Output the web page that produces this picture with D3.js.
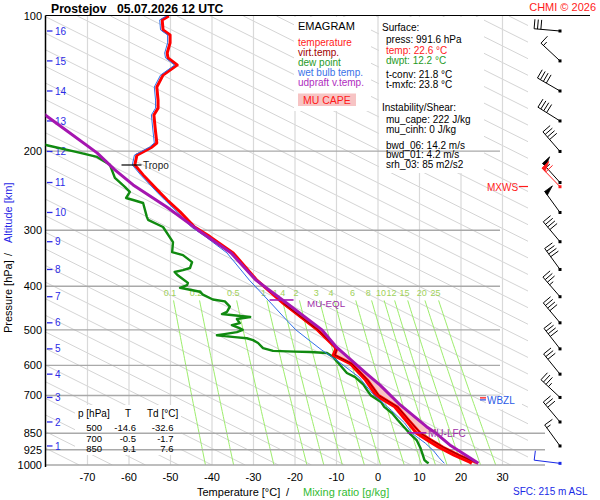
<!DOCTYPE html>
<html><head><meta charset="utf-8">
<script src="https://d3js.org/d3.v7.min.js"></script>
<style>
html,body{margin:0;padding:0;background:#fff;}
svg{display:block;}
text{font-family:"Liberation Sans",Arial,Helvetica,sans-serif;}
</style></head>
<body><svg id="chart" width="600" height="500"></svg>
<script>
// ================= DATA =================
const isobarLevels=[100,200,300,400,500,600,700,850,925,1000];
const tempTicks=[-70,-60,-50,-40,-30,-20,-10,0,10,20,30];
const mixRatios=[0.1,0.2,0.5,1,1.4,2,3,4,6,8,10,12,15,20,25];
const mixLabels=["0.1","0.2","0.5","1","1.4","2","3","4","6","8","10","12","15","20","25"];
const altKm=[16,15,14,13,12,11,10,9,8,7,6,5,4,3,2,1];
const altP=[108,125.9,146.9,171.3,200.3,234.9,273.9,318.2,366.9,421.9,482.3,551.3,627.6,707.2,802,907];

// temperature profile (hPa, degC)
const tempP=[100,102,107.4,110.2,114.8,120.9,124,128.6,135.4,143.9,153.9,160.4,166.1,177.6,191.8,196,204.1,214.7,225.9,247.7,256.9,273,295,310,337,387.5,436,500,546,552,569,595,647,700,742,801,850,880,912,951,986,991.6];
const tempT=[-50.4,-52.0,-51.8,-50.1,-50.1,-50.8,-50.6,-48.4,-51.8,-53.3,-53.0,-53.0,-54.0,-53.7,-53.3,-54.5,-58.1,-58.6,-56.6,-52.5,-50.8,-47.7,-44.2,-40.5,-34.9,-29.2,-22.9,-14.6,-10.4,-10.2,-10.8,-6.7,-3.0,-0.5,4.0,7.0,9.3,11.8,14.5,18.3,22.1,22.6];
// virtual temperature (lower part, where it separates from T)
const vtempP=[436,500,546,552,569,595,647,700,742,801,850,880,912,951,986,991.6];
const vtempT=[-22.8,-14.5,-10.2,-9.9,-10.4,-6.3,-2.5,0.2,4.7,7.8,10.3,12.9,15.7,19.6,23.5,24.1];
// dew point
const dewP=[180,186,190,194,201,206,214.5,229.4,240.3,246.5,254.3,256.9,260.9,280.1,284.5,295.1,318.9,335.6,340.8,353.3,364.1,368,371.6,377,381.2,393,397.5,403,407,411.2,417.5,428,432,444,456,461,465,468,473,483,488,495,500,506,511,514,519,522,527,535,549,557,559,560,563,575,598,624,637,662,682,700,725,742,767,795,822,850,880,915,950,975,986,991.6];
const dewT=[-83,-80.5,-82,-79.8,-72.5,-67.7,-64.6,-63.4,-61.0,-59.8,-60.7,-59.0,-56.6,-55.7,-55.4,-51.8,-49.4,-49.6,-47.0,-44.8,-45.3,-47.0,-49.0,-48.4,-47.7,-45.8,-46.0,-47.7,-45.3,-42.9,-42.2,-39.8,-36.9,-35.7,-36.4,-37.6,-33.7,-30.8,-34.0,-33.3,-35.2,-33.5,-32.6,-34.0,-37.0,-38.8,-34.5,-31.6,-30.1,-28.9,-27.7,-25.3,-20.0,-16.4,-12.3,-10.8,-9.2,-7.5,-5.5,-3.5,-2.6,-1.7,0.8,1.5,3.4,4.8,6.2,7.6,9.3,10.2,10.8,11.2,11.8,12.2];
// wet bulb temperature
const wbP=[100,102,107.4,110.2,114.8,120.9,124,128.6,135.4,143.9,153.9,160.4,166.1,177.6,191.8,196,204.1,214.7,225.9,247.7,256.9,273,295,310,337,387.5,436,476,500,531,555,584,637,692,755,806,850,894,930,963,991.6];
const wbT=[-51.0,-52.6,-52.4,-50.7,-50.7,-51.4,-51.2,-49.0,-52.4,-53.9,-53.6,-53.6,-54.6,-54.3,-53.9,-55.1,-58.7,-59.2,-57.2,-53.1,-51.4,-48.4,-45.0,-41.6,-36.4,-31.0,-25.8,-22.0,-19.8,-16.2,-13.5,-10.0,-4.6,-1.4,3.2,6.4,8.2,11.4,13.4,14.7,16.0];
// most-unstable parcel (updraft virtual temperature)
const parcelP=[155,166.1,177.6,201.8,220.1,237.8,266.3,299.5,337.3,387.5,429,500,546.6,626.6,664,734,821.7,850,902,991.6];
const parcelT=[-83.5,-80.2,-75.9,-67.7,-63.4,-59.0,-50.9,-43.4,-35.4,-29.4,-23.0,-13.5,-10.0,-2.7,0.5,5.3,11.7,14.0,17.3,24.2];
const lfcP=848, eqlP=429, tropoP=214.7, wbzlP=707, mxwsP=240;

// winds (hPa, deg, kt)
const windP=[108,125.9,146.9,171.3,200.3,234.9,273.9,318.2,366.9,421.9,482.3,551.3,627.6,707.2,802,907];
const windDir=[275,313,300,302,319,318,324,320,324,319,320,322,321,313,320,324];
const windSpd=[30,15,40,40,40,55,50,40,40,35,40,40,30,35,30,15];
const sfcWind={p:991.6,dir:277,spd:10};
const maxWind={p:240,dir:316,spd:60};

// text tables
const legendItems=[["temperature","#ff1a1a"],["virt.temp.","#a00000"],["dew point","#1f9a1f"],["wet bulb temp.","#3a72e8"],["udpraft v.temp.","#b02cc0"]];
const surfaceLines=[["Surface:",382,31,"#000"],["press: 991.6 hPa",386,43,"#000"],["temp: 22.6 °C",386,53.5,"#ff1a1a"],["dwpt: 12.2 °C",386,63.5,"#1f9a1f"],["t-conv: 21.8 °C",386,77.5,"#000"],["t-mxfc: 23.8 °C",386,87.5,"#000"],["Instability/Shear:",382,111,"#000"],["mu_cape: 222 J/kg",386,122.5,"#000"],["mu_cinh: 0 J/kg",386,132.5,"#000"],["bwd_06: 14.2 m/s",386,148.5,"#000"],["bwd_01: 4.2 m/s",386,158,"#000"],["srh_03: 85 m2/s2",386,168,"#000"]];
const tableP=["500","700","850"];
const tableT=["-14.6","-0.5","9.1"];
const tableTd=["-32.6","-1.7","7.6"];

// ================= CHART =================
const svg=d3.select("#chart");
const x=d3.scaleLinear().domain([-80,30]).range([46,502.5]);
const y=d3.scaleLog().domain([100,1000]).range([16,465]);
const L=45.5, TOP=16, BOT=465;

svg.append("rect").attr("width",600).attr("height",500).attr("fill","#fff");
const defs=svg.append("defs");
defs.append("clipPath").attr("id","plot").append("rect").attr("x",L).attr("y",TOP).attr("width",500).attr("height",BOT-TOP+2);
defs.append("clipPath").attr("id","diag").append("rect").attr("x",L).attr("y",TOP).attr("width",528-L).attr("height",BOT-TOP);

// skewed grey guide lines
const diagK=94;
const gD=svg.append("g").attr("clip-path","url(#diag)");
for(let t0=-88;t0<=264;t0+=8){
  gD.append("line").attr("x1",x(t0)).attr("y1",y(1000)).attr("x2",x(t0+diagK*Math.log(100/1000))).attr("y2",y(100))
    .attr("stroke","#cfcfcf").attr("stroke-width",0.9);
}
// isotherms
svg.append("g").selectAll("line").data(tempTicks).join("line")
  .attr("x1",d=>x(d)).attr("x2",d=>x(d)).attr("y1",TOP).attr("y2",BOT)
  .attr("stroke","#d9d9d9").attr("stroke-width",1.2);

// mixing ratio lines
function tSat(w,p){const e=w*p/(622+w);const l=Math.log(e/6.112);return 243.5*l/(17.67-l);}
const gM=svg.append("g");
const mixLine=d3.line().x(d=>x(d[1])).y(d=>y(d[0]));
mixRatios.forEach((w,i)=>{
  const pts=d3.range(1000,429,-10).concat([430]).map(p=>[p,tSat(w,p)]);
  gM.append("path").attr("d",mixLine(pts)).attr("fill","none").attr("stroke","#9ded6c").attr("stroke-width",1);
  gM.append("text").attr("x",x(tSat(w,436))-4).attr("y",295.8).attr("text-anchor","middle")
    .attr("font-size",9).attr("fill","#9fd15a").text(mixLabels[i]);
});

// white info boxes
svg.append("rect").attr("x",294).attr("y",17).attr("width",77).attr("height",94).attr("fill","#fff");
svg.append("rect").attr("x",379).attr("y",17).attr("width",105).attr("height",156).attr("fill","#fff");
svg.append("rect").attr("x",75).attr("y",405).attr("width",106).attr("height",50).attr("fill","#fff");

// isobars
svg.append("g").selectAll("line").data(isobarLevels.filter(p=>p>100)).join("line")
  .attr("x1",L).attr("x2",d=>d>=850?545:500).attr("y1",d=>y(d)).attr("y2",d=>y(d))
  .attr("stroke","#a9a9a9").attr("stroke-width",1.4);
// frame
svg.append("line").attr("x1",L).attr("x2",590).attr("y1",15.5).attr("y2",15.5).attr("stroke","#000").attr("stroke-width",1.2);
svg.append("line").attr("x1",L).attr("x2",L).attr("y1",15.5).attr("y2",467).attr("stroke","#000").attr("stroke-width",1.5);

// pressure labels
svg.append("g").selectAll("text").data(isobarLevels).join("text")
  .attr("x",42).attr("y",d=>y(d)+4).attr("text-anchor","end").attr("font-size",11).attr("fill","#000").text(d=>d);
// temperature labels
svg.append("g").selectAll("text").data(tempTicks).join("text")
  .attr("x",d=>x(d)).attr("y",480.5).attr("text-anchor","middle").attr("font-size",11).attr("fill","#000").text(d=>d);

// altitude ticks
const gA=svg.append("g");
altKm.forEach((k,i)=>{
  gA.append("line").attr("x1",47).attr("x2",52.5).attr("y1",y(altP[i])).attr("y2",y(altP[i])).attr("stroke","#2a2ae6").attr("stroke-width",1.3);
  gA.append("text").attr("x",55).attr("y",y(altP[i])+3.6).attr("font-size",10).attr("fill","#2a2ae6").text(k);
});

// ---------- profiles ----------
const zip=(P,T)=>P.map((p,i)=>[p,T[i]]);
const ln=d3.line().x(d=>x(d[1])).y(d=>y(d[0]));
function interpLog(P,T,p){
  for(let i=0;i<P.length-1;i++){
    if(p>=P[i]&&p<=P[i+1]){const f=(Math.log(p)-Math.log(P[i]))/(Math.log(P[i+1])-Math.log(P[i]));return T[i]+f*(T[i+1]-T[i]);}
  }
  return NaN;
}
const envT=p=>p>=vtempP[0]?interpLog(vtempP,vtempT,p):interpLog(tempP,tempT,p);
const gP=svg.append("g").attr("clip-path","url(#plot)");
const capeP=d3.range(eqlP,lfcP+0.01,1.5);
const capeArea=d3.area().y(d=>y(d)).x0(d=>x(envT(d))).x1(d=>x(Math.max(envT(d),interpLog(parcelP,parcelT,d))));
gP.append("path").attr("d",capeArea(capeP)).attr("fill","#f7c4c4").attr("stroke","none");

gP.append("path").attr("d",ln(zip(dewP,dewT))).attr("fill","none").attr("stroke","#108a10").attr("stroke-width",2.4).attr("stroke-linejoin","round");
gP.append("path").attr("d",ln(zip(tempP,tempT))).attr("fill","none").attr("stroke","#ff0000").attr("stroke-width",3).attr("stroke-linejoin","round");
gP.append("path").attr("d",ln(zip(vtempP,vtempT))).attr("fill","none").attr("stroke","#ff0000").attr("stroke-width",2.6).attr("stroke-linejoin","round");
gP.append("path").attr("d",ln(zip(vtempP,vtempT))).attr("fill","none").attr("stroke","#8a0000").attr("stroke-width",1).attr("stroke-linejoin","round");
gP.append("path").attr("d",ln(zip(wbP,wbT))).attr("fill","none").attr("stroke","#2f6fe8").attr("stroke-width",1).attr("stroke-linejoin","round");
gP.append("path").attr("d",ln(zip(parcelP,parcelT))).attr("fill","none").attr("stroke","#a516b0").attr("stroke-width",3).attr("stroke-linejoin","round");

// markers
svg.append("line").attr("x1",121.5).attr("x2",141.5).attr("y1",y(tropoP)).attr("y2",y(tropoP)).attr("stroke","#000").attr("stroke-width",1.2);
svg.append("text").attr("x",143).attr("y",y(tropoP)+4.5).attr("font-size",10).attr("fill","#222").text("Tropo");
const pEql=interpLog(parcelP,parcelT,eqlP);
svg.append("line").attr("x1",x(pEql)-13).attr("x2",x(pEql)+11).attr("y1",y(eqlP)).attr("y2",y(eqlP)).attr("stroke","#a516b0").attr("stroke-width",1.6);
svg.append("text").attr("x",307).attr("y",y(eqlP)+6.8).attr("font-size",9.8).attr("fill","#a030a8").text("MU-EQL");
const pLfc=interpLog(parcelP,parcelT,lfcP);
svg.append("line").attr("x1",x(pLfc)-28).attr("x2",x(pLfc)-9).attr("y1",y(lfcP)).attr("y2",y(lfcP)).attr("stroke","#a516b0").attr("stroke-width",1.6);
svg.append("text").attr("x",428).attr("y",y(lfcP)+4.5).attr("font-size",10).attr("fill","#a030a8").text("MU-LFC");
// WBZL
svg.append("rect").attr("x",486).attr("y",y(wbzlP)-2).attr("width",36).attr("height",14).attr("fill","#fff");
svg.append("line").attr("x1",480).attr("x2",486).attr("y1",y(wbzlP)+0.5).attr("y2",y(wbzlP)+0.5).attr("stroke","#ff0000").attr("stroke-width",1.2);
svg.append("line").attr("x1",480).attr("x2",486).attr("y1",y(wbzlP)+2.5).attr("y2",y(wbzlP)+2.5).attr("stroke","#2a4ae6").attr("stroke-width",1.2);
svg.append("text").attr("x",487).attr("y",y(wbzlP)+6.5).attr("font-size",10).attr("fill","#2a5ae6").text("WBZL");
// MXWS
svg.append("text").attr("x",487).attr("y",y(mxwsP)+3.8).attr("font-size",10).attr("fill","#ff1a1a").text("MXWS");
svg.append("line").attr("x1",519).attr("x2",528).attr("y1",y(mxwsP)-0.2).attr("y2",y(mxwsP)-0.2).attr("stroke","#ff1a1a").attr("stroke-width",1.2);

// ---------- wind barbs ----------
const gB=svg.append("g");
const bx=560;
function barb(cy,dir,spd,col){
  const th=dir*Math.PI/180;
  const u=[Math.sin(th),-Math.cos(th)], b=[Math.cos(th),Math.sin(th)];
  const Ls=26, bl=9.5, sp=3.4;
  const tip=[bx+Ls*u[0],cy+Ls*u[1]];
  const P=s=>[tip[0]-s*u[0],tip[1]-s*u[1]];
  const g=gB.append("g");
  g.append("line").attr("x1",bx).attr("y1",cy).attr("x2",tip[0]).attr("y2",tip[1]).attr("stroke",col).attr("stroke-width",1);
  let s=0,v=spd;
  while(v>=47.5){
    const a=P(s),c=P(s+4.5);
    g.append("path").attr("d",`M${a[0]},${a[1]}L${a[0]+bl*b[0]},${a[1]+bl*b[1]}L${c[0]},${c[1]}Z`).attr("fill",col).attr("stroke",col).attr("stroke-width",0.8);
    s+=5.5;v-=50;
  }
  while(v>=7.5){
    const a=P(s);
    g.append("line").attr("x1",a[0]).attr("y1",a[1]).attr("x2",a[0]+bl*b[0]).attr("y2",a[1]+bl*b[1]).attr("stroke",col).attr("stroke-width",1);
    s+=sp;v-=10;
  }
  if(v>=2.5){
    if(s===0)s=sp;
    const a=P(s);
    g.append("line").attr("x1",a[0]).attr("y1",a[1]).attr("x2",a[0]+bl*0.5*b[0]).attr("y2",a[1]+bl*0.5*b[1]).attr("stroke",col).attr("stroke-width",1);
  }
  g.append("rect").attr("x",bx-1.5).attr("y",cy-1.5).attr("width",3).attr("height",3).attr("fill",col);
}
windP.forEach((p,i)=>barb(y(p),windDir[i],windSpd[i],"#000"));
barb(y(maxWind.p),maxWind.dir,maxWind.spd,"#ff1a1a");
barb(y(sfcWind.p),sfcWind.dir,sfcWind.spd,"#1a2ae6");

// ---------- texts ----------
const t=(xx,yy,s,sz,col,extra)=>{const e=svg.append("text").attr("x",xx).attr("y",yy).attr("font-size",sz).attr("fill",col).text(s);if(extra)extra(e);return e;};
t(51,12.5,"Prostejov",12.2,"#000",e=>e.attr("font-weight","bold"));
t(117,12.5,"05.07.2026 12 UTC",12.2,"#000",e=>e.attr("font-weight","bold"));
t(596,11,"CHMI © 2026",11,"#ff1a1a",e=>e.attr("text-anchor","end"));

// legend
t(298,30,"EMAGRAM",11,"#000");
legendItems.forEach((d,i)=>t(298,45.5+i*10,d[0],10,d[1]));
svg.append("rect").attr("x",298).attr("y",93.5).attr("width",58).attr("height",12.5).attr("fill","#f7c4c4");
t(303,104.3,"MU CAPE",10.5,"#ff1a1a");

// surface box
surfaceLines.forEach(d=>t(d[1],d[2],d[0],10,d[3]));

// table
t(78,417,"p [hPa]",10,"#000");
t(125,417,"T",10,"#000");
t(147,417,"Td [°C]",10,"#000");
[431,441.5,452].forEach((yy,i)=>{
  t(102,yy,tableP[i],9.5,"#000",e=>e.attr("text-anchor","end"));
  t(136,yy,tableT[i],9.5,"#000",e=>e.attr("text-anchor","end"));
  t(173.5,yy,tableTd[i],9.5,"#000",e=>e.attr("text-anchor","end"));
});

// axis titles
t(197,495.5,"Temperature [°C]",11,"#000");
t(286,495.5,"/",11,"#000");
t(303,495.5,"Mixing ratio [g/kg]",11,"#33bb33");
t(513,495,"SFC: 215 m ASL",10,"#1a2ae6");
svg.append("text").attr("transform","translate(11.5,333) rotate(-90)").attr("font-size",11).attr("fill","#000").text("Pressure [hPa]");
svg.append("text").attr("transform","translate(11.5,256) rotate(-90)").attr("font-size",11).attr("fill","#000").text("/");
svg.append("text").attr("transform","translate(11.5,243) rotate(-90)").attr("font-size",11).attr("fill","#2a2ae6").text("Altitude [km]");
</script>
</body></html>
